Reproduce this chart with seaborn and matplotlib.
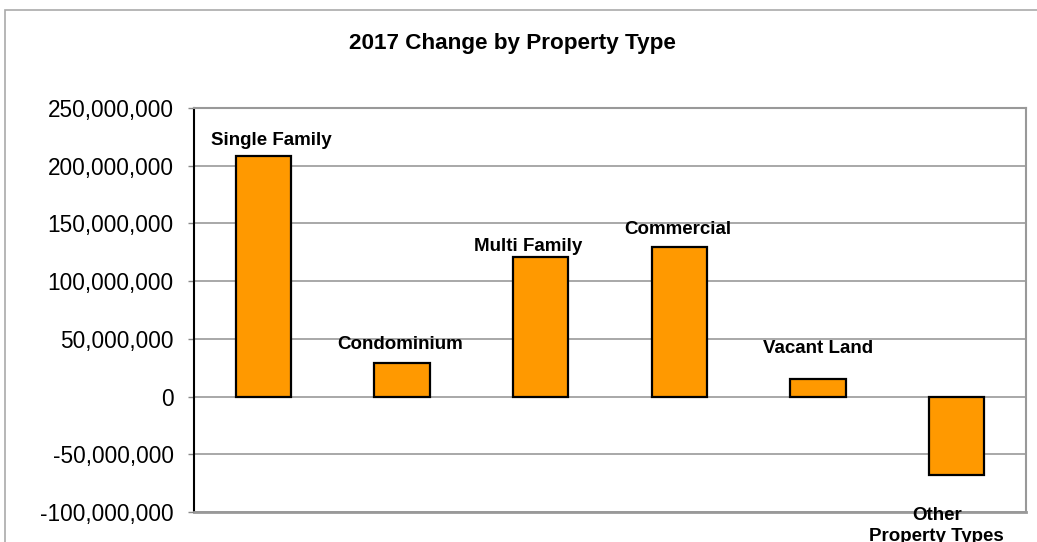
import matplotlib
matplotlib.use("Agg")
import matplotlib.pyplot as plt
import seaborn as sns
import pandas as pd
from matplotlib.ticker import FuncFormatter
from matplotlib.patches import Rectangle

categories = ["Single Family", "Condominium", "Multi Family", "Commercial", "Vacant Land", "Other\nProperty Types"]
values = [208_000_000, 29_000_000, 121_000_000, 130_000_000, 15_500_000, -68_000_000]
title = "2017 Change by Property Type"
y_ticks = [-100_000_000, -50_000_000, 0, 50_000_000, 100_000_000, 150_000_000, 200_000_000, 250_000_000]

# label placement (data coords: x offset from category, y position) - style only
label_pos = [(0.06, 218e6, "baseline"), (0.984, 41e6, "baseline"), (1.91, 126e6, "baseline"),
             (2.987, 141e6, "baseline"), (4.003, 38e6, "baseline"), (4.857, -96e6, "top")]

sns.set_theme(style="white")
plt.rcParams["font.family"] = ["Liberation Sans", "DejaVu Sans"]

W, H = 1037, 542
fig = plt.figure(figsize=(W / 100, H / 100), dpi=100)
ax = fig.add_axes([194 / W, (H - 512) / H, 832 / W, 404 / H])

df = pd.DataFrame({"cat": categories, "val": values})
sns.barplot(data=df, x="cat", y="val", color="#FF9900", saturation=1, width=0.4,
            edgecolor="black", linewidth=1.6, ax=ax, zorder=3)

ax.set_ylim(-100_000_000, 250_000_000)
ax.set_xlim(-0.5, len(categories) - 0.5)
ax.set_yticks(y_ticks)
ax.yaxis.set_major_formatter(FuncFormatter(lambda v, p: f"{int(v):,}"))
ax.set_xticks([])
ax.set_xlabel("")
ax.set_ylabel("")
ax.tick_params(axis="y", which="major", length=4.5, width=1, color="#888888",
               labelsize=16.3, labelcolor="black", pad=10, left=True, direction="out")
ax.yaxis.grid(True, color="#999999", linewidth=1.2, zorder=0)
ax.set_axisbelow(True)

for side in ["top", "right", "bottom"]:
    ax.spines[side].set_visible(True)
    ax.spines[side].set_color("#999999")
    ax.spines[side].set_linewidth(1.5)
ax.spines["bottom"].set_linewidth(2)
ax.spines["left"].set_color("black")
ax.spines["left"].set_linewidth(1.5)

for (x, y, va), lab in zip(label_pos, categories):
    ax.text(x, y, lab, ha="center", va=va, fontsize=13.5, fontweight="bold",
            color="black", linespacing=1.3, zorder=5, clip_on=False)

fig.text(512.5 / W, 1 - 49 / H, title, ha="center", va="baseline",
         fontsize=16.2, fontweight="bold", color="black")

# chart area border (extends beyond the image at right/bottom)
fig.patches.append(Rectangle((5 / W, -0.1), 1.2, 1 - 10 / H + 0.1, transform=fig.transFigure,
                             fill=False, edgecolor="#AAAAAA", linewidth=1.2, zorder=0))

fig.savefig("out.png", dpi=100)
